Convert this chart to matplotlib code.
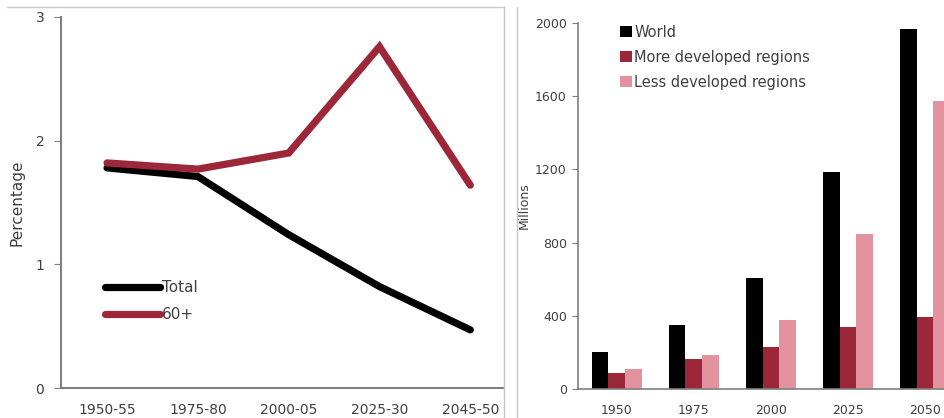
import numpy as np
import matplotlib.pyplot as plt
from matplotlib.lines import Line2D

# left panel: growth rate (%)
periods = ['1950-55', '1975-80', '2000-05', '2025-30', '2045-50']
total = [1.78, 1.71, 1.24, 0.82, 0.47]
older = [1.82, 1.77, 1.90, 2.76, 1.64]

# right panel: population aged 60+ (millions)
years = ['1950', '1975', '2000', '2025', '2050']
world = [204, 350, 606, 1186, 1965]
more_dev = [90, 164, 230, 339, 394]
less_dev = [110, 186, 375, 847, 1572]

dark_red = '#9b2738'
pink = '#e3939f'
grey = '#7f7f7f'
txt = '#404040'

plt.rcParams['font.family'] = 'DejaVu Sans'

fig = plt.figure(figsize=(9.45, 4.18), dpi=100)
W, H = 945.0, 418.0

# ---- left chart
ax1 = fig.add_axes([61 / W, 1 - 388 / H, (503 - 61) / W, (388 - 17) / H])
x = np.arange(len(periods))
ax1.plot(x, total, color='black', lw=5.2, solid_capstyle='round', solid_joinstyle='miter', label='Total')
ax1.plot(x, older, color=dark_red, lw=5.2, solid_capstyle='round', solid_joinstyle='miter', label='60+')
ax1.set_xlim(-0.507, 4.36)
ax1.set_ylim(0, 3)
ax1.set_yticks([0, 1, 2, 3])
ax1.set_xticks(x)
ax1.set_xticklabels(periods)
ax1.tick_params(axis='y', length=5, color=grey, labelcolor=txt, labelsize=10, pad=7)
ax1.tick_params(axis='x', length=0, labelcolor=txt, labelsize=10, pad=11)
for s in ['top', 'right']:
    ax1.spines[s].set_visible(False)
for s in ['left', 'bottom']:
    ax1.spines[s].set_color(grey)
    ax1.spines[s].set_linewidth(1.5)
ax1.set_ylabel('Percentage', fontsize=11, color=txt, labelpad=8)
ax1.legend(loc='upper left', bbox_to_anchor=(0.1, 0.29), frameon=False,
           fontsize=11, handlelength=3.6, handletextpad=0.1, labelspacing=0.75,
           borderpad=0, borderaxespad=0, labelcolor=txt)

# ---- right chart
ax2 = fig.add_axes([578 / W, 1 - 389 / H, (945 - 578) / W, (389 - 23) / H])
g = np.arange(len(years))
w = 0.22
ax2.bar(g - w, world, w, color='black', label='World')
ax2.bar(g, more_dev, w, color=dark_red, label='More developed regions')
ax2.bar(g + w, less_dev, w, color=pink, label='Less developed regions')
ax2.set_xlim(-0.506, 4.26)
ax2.set_ylim(0, 2000)
ax2.set_yticks([0, 400, 800, 1200, 1600, 2000])
ax2.set_xticks(g)
ax2.set_xticklabels(years)
ax2.tick_params(axis='y', length=4, color=grey, labelcolor=txt, labelsize=9, pad=4)
ax2.tick_params(axis='x', length=0, labelcolor=txt, labelsize=9, pad=11)
for s in ['top', 'right']:
    ax2.spines[s].set_visible(False)
for s in ['left', 'bottom']:
    ax2.spines[s].set_color(grey)
    ax2.spines[s].set_linewidth(1.2)
ax2.set_ylabel('Millions', fontsize=9, color=txt, labelpad=3)
ax2.legend(loc='upper left', bbox_to_anchor=(0.114, 0.995), frameon=False,
           fontsize=10.5, handlelength=0.8, handleheight=0.8, handletextpad=0.2,
           labelspacing=0.68, borderpad=0, borderaxespad=0, labelcolor=txt)

# panel borders
border = '#c8c8c8'
fig.add_artist(Line2D([7 / W, 504 / W], [1 - 7 / H, 1 - 7 / H], color=border, lw=1))
fig.add_artist(Line2D([504 / W, 504 / W], [0, 1 - 7 / H], color=border, lw=1))
fig.add_artist(Line2D([517 / W, 517 / W], [0, 1 - 7 / H], color=border, lw=1))

fig.savefig('out.png', dpi=100)
